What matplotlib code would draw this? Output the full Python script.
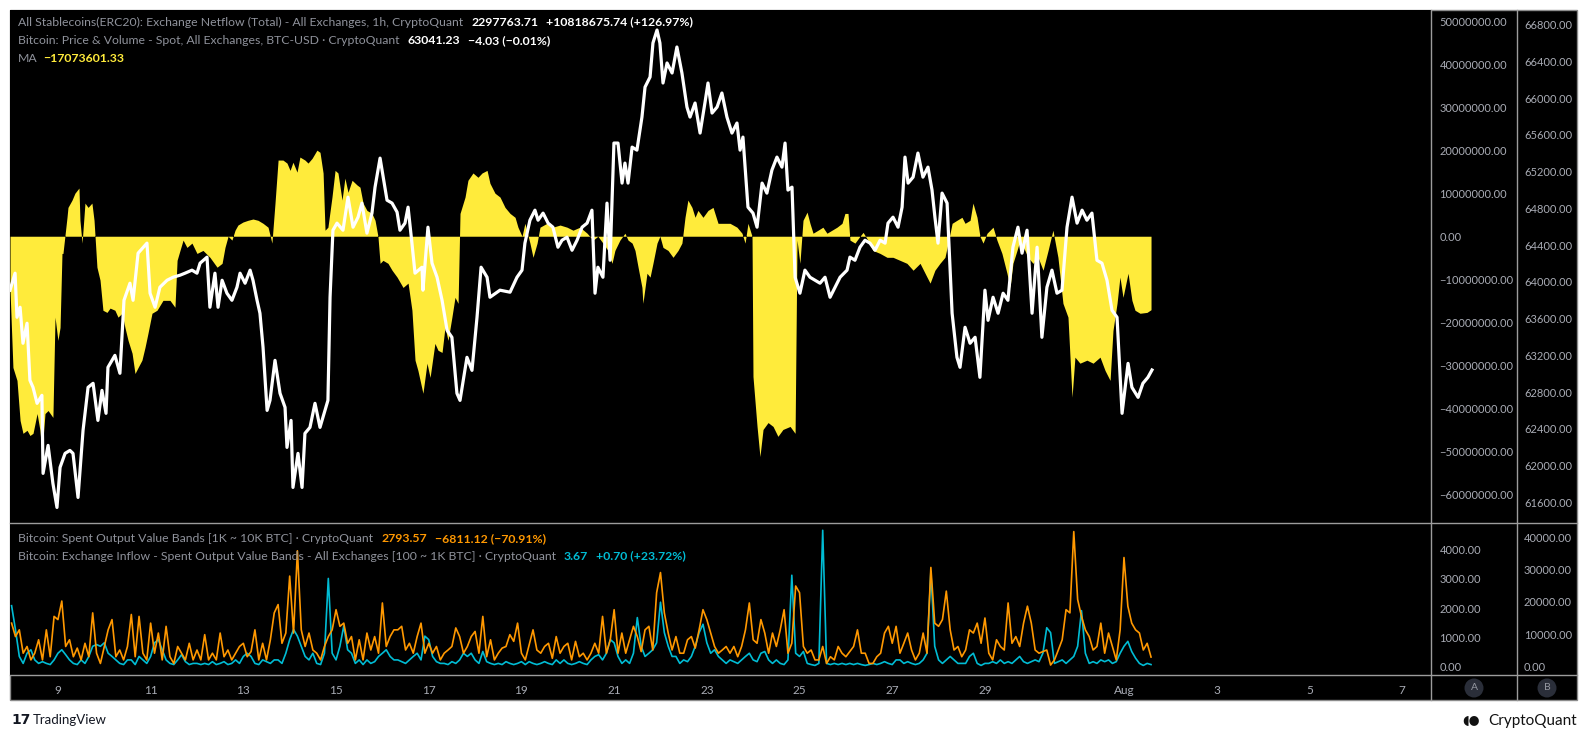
import numpy as np
import matplotlib
matplotlib.use("Agg")
import matplotlib.pyplot as plt
from matplotlib.lines import Line2D
from matplotlib.patches import Rectangle, Circle
from matplotlib.ticker import FuncFormatter

# ---------------- DATA (hours since 2024-07-07 00:00 UTC) ----------------
price_hours = [23.2, 25.8, 26.8, 28.4, 29.9, 32.0, 33.5, 35.1, 37.2, 39.7, 40.3, 42.9, 45.4, 47.5, 49.1, 51.7, 54.2, 55.8,
               58.4, 61.0, 63.6, 66.2, 68.7, 70.8, 72.9, 73.9, 77.5, 80.1, 82.2, 85.3, 86.9, 89.5, 94.1, 95.7, 98.3, 100.8,
               104.5, 107.6, 111.2, 113.8, 117.4, 120.0, 121.6, 125.2, 126.7, 129.3, 130.9, 133.0, 135.5, 138.1, 140.7,
               142.3, 144.9, 147.5, 149.0, 151.1, 152.6, 154.2, 156.3, 157.8, 160.4, 163.0, 165.6, 166.6, 168.7, 169.7,
               172.3, 174.4, 175.9, 178.5, 181.1, 183.7, 186.3, 187.8, 188.9, 190.4, 192.5, 195.6, 198.2, 200.8, 203.4,
               205.4, 208.0, 210.6, 212.2, 214.8, 218.4, 221.0, 223.6, 225.1, 227.7, 229.3, 231.3, 232.9, 236.5, 237.0,
               239.6, 241.7, 244.3, 246.9, 249.5, 252.0, 254.6, 256.2, 259.8, 262.4, 265.0, 267.1, 270.2, 271.7, 276.9,
               282.1, 285.7, 288.3, 289.8, 292.4, 295.0, 296.6, 299.2, 301.8, 304.3, 306.9, 309.0, 311.6, 314.2, 316.8,
               319.4, 322.0, 324.5, 326.1, 327.6, 330.2, 332.3, 333.9, 335.9, 338.0, 340.1, 341.6, 343.2, 345.3, 347.8,
               350.4, 352.0, 354.6, 356.1, 358.2, 359.7, 361.3, 363.4, 366.0, 368.5, 371.1, 373.7, 375.3, 377.9, 380.5,
               383.0, 384.6, 386.7, 389.3, 391.8, 394.4, 397.0, 399.6, 401.2, 402.7, 405.3, 407.9, 410.0, 412.6, 415.1,
               417.7, 420.3, 422.9, 424.5, 426.0, 428.1, 429.7, 432.2, 434.8, 437.4, 440.0, 442.6, 445.2, 447.8, 450.4,
               453.0, 456.6, 458.1, 460.7, 463.3, 465.9, 468.5, 471.1, 473.7, 476.3, 477.8, 480.4, 483.0, 485.1, 486.6,
               488.2, 490.8, 493.3, 495.9, 498.5, 500.6, 502.1, 503.7, 505.8, 508.4, 511.0, 513.5, 515.1, 517.7, 520.3,
               522.9, 525.4, 528.0, 529.6, 532.2, 534.8, 537.4, 539.9, 542.5, 545.1, 547.2, 549.8, 552.4, 555.0, 557.5,
               560.1, 562.7, 565.3, 567.9, 570.5, 573.1, 575.7, 578.3, 580.8, 583.4, 586.0, 588.6, 591.2, 593.8, 596.4,
               599.0, 602.1, 604.1, 607.3, 609.8, 612.4, 614.5]
btc_price = [63910, 64095, 63615, 63724, 63332, 63550, 62929, 62852, 62678, 62765, 61915, 62220, 61806, 61544, 61980, 62133,
             62165, 62133, 61653, 62383, 62852, 62896, 62492, 62819, 62569, 63070, 63200, 63005, 63800, 63986, 63800, 64313,
             64422, 63877, 63724, 63942, 64018, 64051, 64073, 64095, 64128, 64095, 64204, 64270, 63724, 64095, 63724, 64018,
             63877, 63800, 63942, 64095, 63986, 64128, 64018, 63800, 63659, 63288, 62601, 62710, 63146, 62787, 62634, 62198,
             62492, 61762, 62133, 61762, 62351, 62416, 62678, 62416, 62601, 62710, 63833, 64563, 64640, 64563, 64923, 64596,
             64705, 64858, 64531, 64749, 65032, 65348, 64890, 64858, 64760, 64563, 64640, 64814, 64422, 64095, 64160, 63910,
             64596, 64204, 64051, 63800, 63473, 63397, 62787, 62710, 63179, 63037, 63615, 64160, 64051, 63833, 63910, 63888,
             64051, 64128, 64422, 64672, 64781, 64672, 64749, 64640, 64596, 64378, 64454, 64487, 64345, 64454, 64596, 64640,
             64781, 63877, 64160, 64051, 64858, 64236, 65512, 65512, 65076, 65294, 65076, 65468, 65435, 65795, 66122, 66231,
             66602, 66743, 66602, 66166, 66384, 66275, 66558, 66275, 65904, 65795, 65948, 65621, 65948, 66166, 65839, 65904,
             66057, 65795, 65621, 65730, 65435, 65577, 64814, 64749, 64596, 65076, 64967, 65218, 65359, 65250, 65512, 65000,
             65032, 64051, 63877, 64128, 64051, 64018, 63986, 64051, 63833, 63942, 64051, 64128, 64270, 64236, 64378, 64454,
             64422, 64345, 64454, 64422, 64640, 64705, 64596, 64814, 65359, 65076, 65141, 65403, 65141, 65250, 65000, 64705,
             64422, 64967, 64858, 63659, 63179, 63070, 63506, 63332, 63397, 62961, 63910, 63582, 63833, 63659, 63877, 63800,
             64378, 64596, 64313, 64563, 63659, 64378, 63397, 63942, 64128, 63877, 63910, 64596, 64923, 64640, 64781, 64672,
             64749, 64236, 64204, 64018, 63691, 63615, 62569, 63113, 62852, 62743, 62896, 62961, 63041]

ma_hours = [23.2, 24.7, 26.8, 28.4, 29.9, 32.0, 33.5, 35.1, 37.2, 38.7, 39.7, 41.3, 42.9, 45.4, 46.5, 48.0, 49.1, 50.1,
            50.6, 52.7, 53.2, 55.3, 56.8, 58.9, 59.4, 60.5, 62.0, 63.6, 65.6, 66.7, 68.2, 69.8, 71.3, 73.4, 75.0, 77.5,
            79.1, 81.2, 82.7, 84.3, 86.4, 87.9, 89.5, 91.5, 93.1, 94.6, 96.7, 99.3, 102.4, 106.0, 108.6, 109.7, 111.2,
            112.8, 114.8, 117.4, 120.0, 123.1, 126.7, 130.4, 133.0, 134.5, 136.1, 138.1, 139.7, 141.2, 143.8, 146.4,
            149.0, 151.6, 154.2, 156.8, 158.8, 160.4, 162.0, 164.5, 166.6, 168.2, 169.7, 171.8, 173.3, 175.9, 177.5,
            179.6, 182.1, 183.7, 185.3, 186.3, 187.8, 189.9, 191.5, 193.0, 195.1, 196.6, 198.2, 200.3, 202.9, 204.4,
            206.0, 208.0, 210.6, 212.2, 213.7, 214.8, 216.3, 218.9, 221.0, 223.6, 226.7, 229.3, 231.3, 232.9, 234.4,
            237.0, 239.1, 240.7, 243.2, 244.8, 246.9, 248.4, 250.0, 252.0, 253.6, 255.2, 256.2, 258.8, 260.3, 262.9,
            265.5, 267.6, 270.2, 271.7, 274.3, 276.9, 279.5, 282.1, 284.7, 286.2, 288.3, 289.8, 292.4, 294.0, 296.1,
            297.6, 301.2, 304.3, 308.0, 311.6, 314.7, 318.3, 322.0, 325.1, 327.6, 330.2, 332.8, 334.9, 336.4, 339.0,
            341.6, 343.2, 345.3, 346.8, 348.4, 350.4, 350.9, 353.0, 354.6, 356.1, 358.2, 359.7, 361.3, 363.9, 366.5,
            369.1, 371.1, 372.7, 374.2, 376.3, 377.9, 379.4, 382.0, 384.6, 387.2, 389.8, 392.4, 396.0, 399.6, 402.2,
            403.8, 405.3, 407.4, 407.9, 410.0, 411.5, 413.1, 415.7, 418.3, 420.8, 423.4, 427.1, 429.7, 430.7, 432.2,
            433.8, 435.9, 437.4, 439.0, 441.6, 444.1, 446.2, 448.8, 451.4, 454.0, 455.5, 457.1, 458.1, 460.7, 463.3,
            464.9, 467.4, 470.0, 473.7, 477.3, 480.4, 484.0, 487.6, 490.8, 494.4, 498.0, 499.6, 502.1, 504.7, 507.3,
            508.9, 511.0, 513.5, 516.1, 517.7, 520.3, 521.8, 523.9, 525.4, 527.0, 529.1, 532.2, 534.2, 536.8, 539.4,
            541.0, 542.5, 544.6, 546.2, 548.7, 550.3, 552.9, 555.5, 558.1, 560.7, 563.2, 565.8, 568.4, 571.0, 573.1,
            574.6, 577.2, 580.8, 584.0, 587.6, 590.2, 592.8, 594.3, 596.4, 597.9, 599.5, 602.1, 604.1, 605.7, 608.3,
            611.9, 614.0]
# stablecoin exchange netflow MA, millions of USD
ma_netflow_m = [-12.6, -30.5, -33.5, -42.8, -45.8, -45.1, -46.3, -45.8, -41.2, -45.1, -50.5, -41.2, -40.5, -42.1, -18.8,
                -24.2, -21.2, -4.0, -4.0, 4.4, 6.7, 8.4, 10.0, 11.2, 3.7, -1.6, 7.7, 6.7, 7.7, 3.7, -7.2, -10.2, -17.2,
                -17.7, -16.7, -17.2, -18.8, -17.9, -21.2, -24.2, -27.2, -31.9, -30.5, -28.8, -25.8, -22.6, -17.9, -17.2,
                -14.9, -14.9, -16.5, -5.6, -3.3, -0.9, -2.6, -1.6, -4.0, -3.3, -4.9, -7.2, -6.3, -2.6, 0.0, -0.9, 1.4,
                2.6, 3.3, 3.7, 4.0, 3.7, 3.0, 2.1, -1.6, 7.7, 17.7, 17.7, 17.0, 15.3, 17.2, 14.9, 18.4, 17.7, 17.0, 18.1,
                20.0, 19.5, 14.7, 1.4, 2.1, 9.1, 15.3, 14.7, 8.4, 13.5, 10.2, 13.0, 11.9, 11.4, 7.7, 6.0, 5.3, 3.7, 0.0,
                -6.3, -5.6, -6.3, -7.9, -9.5, -11.9, -10.9, -17.2, -28.8, -31.2, -36.5, -29.5, -32.8, -24.9, -26.5,
                -27.0, -21.2, -24.2, -18.8, -14.2, -15.6, 5.3, 9.1, 13.0, 14.7, 13.7, 14.7, 15.3, 12.3, 10.0, 9.1, 6.7,
                5.3, 4.4, 2.1, 0.0, 3.0, -1.6, -4.9, -1.6, 2.1, 3.0, 2.1, 2.6, 2.1, 1.4, 2.1, 0.7, -0.9, 0.0, -1.6, -3.3,
                -6.3, -3.3, -0.9, 0.7, -0.9, -1.6, -3.3, -7.2, -11.9, -15.6, -8.6, -9.5, -6.3, -1.6, 0.0, -2.6, -3.3,
                -4.9, -3.3, -1.6, 4.4, 8.4, 6.7, 4.4, 6.0, 4.4, 6.0, 6.7, 3.0, 3.0, 3.0, 2.1, 0.7, -1.6, 3.0, 0.0, -32.6,
                -44.2, -51.2, -44.9, -43.3, -44.2, -46.5, -44.9, -44.2, -45.8, -0.9, -6.3, 3.7, 5.6, 3.0, 0.7, 1.4, 2.1,
                0.7, 1.4, 2.1, 3.0, 5.3, 5.3, -0.9, -1.6, 0.0, 0.9, -0.9, -3.3, -4.0, -4.9, -4.9, -5.6, -6.3, -7.9, -6.3,
                -9.5, -10.9, -7.9, -6.3, -4.9, -1.6, 3.0, 3.7, 4.4, 3.0, 3.7, 7.7, 4.4, 0.0, -1.6, 0.7, 2.1, -0.9, -4.0,
                -8.6, -11.9, -6.3, -3.3, -0.9, -3.3, -4.9, -6.3, -4.9, -7.9, -3.3, 1.4, -4.9, -15.6, -18.8, -37.4,
                -28.1, -29.5, -28.8, -29.5, -28.1, -31.2, -33.5, -21.9, -15.6, -9.5, -14.2, -8.6, -14.9, -17.2, -17.9,
                -17.7, -17.07]

# spent output value bands, 2-hourly samples starting at hour 24 (thousands)
bands_start_hour = 24
bands_step_hours = 2
band_1k_10k = [13.4, 9.2, 11.3, 4.0, 6.1, 1.9, 4.0, 8.2, 1.9, 11.3, 2.9, 15.5, 14.5, 20.3, 6.1, 8.2, 2.9, 5.6, 1.9, 7.1,
               2.9, 16.6, 4.0, 0.8, 6.1, 11.3, 14.5, 2.9, 5.0, 1.9, 6.1, 16.1, 2.9, 15.5, 4.0, 1.9, 13.4, 4.0, 10.3, 1.9,
               12.4, 2.9, 0.8, 6.1, 4.0, 1.9, 7.1, 1.9, 5.0, 1.9, 9.8, 1.9, 4.0, 1.9, 10.3, 2.9, 5.0, 1.9, 4.0, 6.1,
               7.1, 2.9, 4.5, 11.3, 1.9, 7.1, 1.9, 8.2, 16.6, 19.2, 7.1, 10.3, 28.1, 10.3, 36.0, 11.3, 6.1, 10.3, 5.0,
               4.0, 1.9, 6.1, 9.2, 11.3, 17.6, 12.4, 13.4, 7.1, 9.2, 1.9, 8.2, 1.9, 10.3, 5.0, 9.2, 4.0, 19.7, 6.1, 9.2,
               11.3,
               11.3, 12.4, 5.0, 7.1, 4.0, 9.2, 13.4, 4.0, 7.1, 4.0, 6.1, 1.9, 4.0, 5.0, 6.1, 11.9, 9.2, 4.0, 6.1, 9.2,
               10.8, 4.0, 15.5, 2.9, 8.2, 1.9, 4.0, 5.6, 6.1, 9.8, 7.7, 13.4, 4.0, 1.9, 6.6, 11.3, 5.0, 4.0, 6.1, 7.1,
               2.4, 9.2, 4.0, 6.1, 7.1, 1.9, 7.7, 2.9, 4.0, 1.9, 4.0, 7.1, 4.0, 15.5, 4.0, 8.2, 17.6, 4.0, 10.3, 4.0,
               8.2, 12.4, 9.2, 4.5, 11.3, 12.4, 5.0, 22.9, 29.2, 16.6, 10.3, 5.0, 9.2, 4.0, 4.0, 8.2, 9.2, 5.6, 11.3,
               17.6, 14.5, 10.3, 6.1, 4.0, 5.0, 6.1, 4.0, 6.1, 2.9, 6.1, 11.3, 19.7, 8.2, 7.1, 14.5, 10.3, 4.0, 10.3,
               6.1, 11.3, 17.6,
               4.0, 7.1, 25.0, 22.9, 6.1, 4.0, 5.0, 1.9, 1.9, 6.1, 0.8, 2.9, 1.9, 6.1, 4.0, 2.9, 4.5, 6.1, 11.3, 4.0,
               4.0, 0.8, 0.8, 2.9, 4.0, 10.3, 12.4, 7.1, 12.4, 4.0, 7.1, 10.3, 5.0, 1.9, 4.0, 10.3, 4.0, 30.8, 13.4,
               12.4, 14.5, 23.4, 11.3, 5.0, 6.1, 2.9, 5.0, 11.3, 10.3, 13.4, 7.1, 15.0, 4.0, 1.9, 8.2, 6.1, 5.0, 19.7,
               7.1, 9.2, 6.1, 13.4, 18.7, 13.4, 5.0, 4.0, 4.5, 5.0, 0.3, 1.9, 5.0, 8.2, 17.6, 16.6, 42.0, 20.8, 15.5,
               11.3, 9.2, 5.0, 6.1, 13.4, 4.0, 10.3, 6.1, 1.9, 11.3, 33.9, 18.7, 13.4, 11.3, 10.3, 5.0, 7.1, 2.8]
band_100_1k = [2.08, 1.26, 0.33, 0.09, 0.44, 0.56, 0.21, 0.09, 0.15, 0.09, 0.05, 0.21, 0.44, 0.56, 0.39, 0.21, 0.09, 0.05,
               0.21, 0.09, 0.33, 0.68, 0.74, 0.68, 0.80, 0.44, 0.33, 0.21, 0.09, 0.05, 0.21, 0.21, 0.05, 0.33, 0.21, 0.09,
               0.33, 0.80, 0.91, 0.56, 0.21, 0.09, 0.05, 0.21, 0.39, 0.15, 0.05, 0.09, 0.09, 0.05, 0.09, 0.05, 0.15, 0.05,
               0.09, 0.15, 0.05, 0.09, 0.21, 0.09, 0.33, 0.44, 0.33, 0.09, 0.05, 0.21, 0.15, 0.09, 0.21, 0.21, 0.09, 0.44,
               0.91, 1.26, 1.03, 0.68, 0.33, 0.21, 0.44, 0.09, 0.05, 0.44, 3.02, 0.44, 0.21, 0.68, 1.38, 0.56, 0.44, 0.09,
               0.21, 0.05, 0.21, 0.09, 0.15, 0.33, 0.44, 0.56, 0.33, 0.21,
               0.21, 0.15, 0.09, 0.21, 0.33, 0.44, 0.21, 1.03, 0.91, 0.33, 0.15, 0.09, 0.09, 0.05, 0.15, 0.09, 0.21, 0.44,
               0.33, 0.44, 0.21, 0.09, 0.50, 0.15, 0.09, 0.05, 0.09, 0.05, 0.15, 0.09, 0.05, 0.09, 0.15, 0.05, 0.15, 0.09,
               0.05, 0.09, 0.15, 0.09, 0.05, 0.21, 0.09, 0.21, 0.09, 0.05, 0.09, 0.15, 0.09, 0.05, 0.21, 0.33, 0.39, 0.21,
               0.44, 0.91, 0.80, 0.33, 0.09, 0.21, 0.09, 0.44, 1.67, 0.68, 0.33, 0.44, 0.56, 0.80, 2.20, 1.15, 0.68, 0.33,
               0.33, 0.09, 0.21, 0.15, 0.33, 0.68, 1.15, 1.44, 0.80, 0.44, 0.56, 0.33, 0.21, 0.09, 0.21, 0.15, 0.09, 0.21,
               0.33, 0.44, 0.21, 0.15, 0.44, 0.50, 0.21, 0.09, 0.21, 0.09, 0.05,
               0.21, 3.13, 0.44, 0.33, 0.50, 0.09, 0.05, 0.02, 0.09, 4.68, 0.09, 0.05, 0.09, 0.05, 0.09, 0.05, 0.09, 0.05,
               0.09, 0.05, 0.02, 0.05, 0.09, 0.05, 0.09, 0.15, 0.09, 0.05, 0.21, 0.21, 0.09, 0.15, 0.09, 0.05, 0.09, 0.21,
               0.44, 3.25, 0.68, 0.21, 0.09, 0.21, 0.33, 0.21, 0.09, 0.09, 0.09, 0.33, 0.44, 0.09, 0.02, 0.09, 0.09, 0.15,
               0.09, 0.21, 0.09, 0.15, 0.09, 0.21, 0.33, 0.15, 0.09, 0.15, 0.21, 0.15, 0.44, 1.32, 1.15, 0.09, 0.15, 0.21,
               0.09, 0.21, 0.33, 0.68, 1.91, 0.44, 0.09, 0.15, 0.09, 0.21, 0.15, 0.21, 0.09, 0.15, 0.44, 0.68, 0.85, 0.50,
               0.27, 0.09, 0.02, 0.09, 0.05]

# x-axis ticks: day of July (Aug 1 = 32)
tick_days = [9, 11, 13, 15, 17, 19, 21, 23, 25, 27, 29, 32, 34, 36, 38]
tick_labels = ["9", "11", "13", "15", "17", "19", "21", "23", "25", "27", "29", "Aug", "3", "5", "7"]

netflow_ticks_m = [-60, -50, -40, -30, -20, -10, 0, 10, 20, 30, 40, 50]
price_ticks = [61600, 62000, 62400, 62800, 63200, 63600, 64000, 64400, 64800, 65200, 65600, 66000, 66400, 66800]
band_a_ticks_k = [0, 1, 2, 3, 4]
band_b_ticks_k = [0, 10, 20, 30, 40]

# ---------------- FIGURE ----------------
W, H = 1588, 738
fig = plt.figure(figsize=(W / 100, H / 100), dpi=100, facecolor="white")
FONT = ["Lato", "DejaVu Sans"]


def fx(px):
    return px / W


def fy(py):
    return 1 - py / H


L, RP, RA, RB = 10, 1431, 1517, 1577
T, SEP, BOT, XB = 10, 522.5, 675, 700

fig.add_artist(Rectangle((fx(L), fy(XB)), fx(RB) - fx(L), fy(T) - fy(XB), transform=fig.transFigure,
                         facecolor="black", edgecolor="#8c8c8c", lw=1.0, zorder=0))

ax_t = fig.add_axes([fx(L), fy(SEP), fx(RP) - fx(L), fy(T) - fy(SEP)], facecolor="black")
ax_b = fig.add_axes([fx(L), fy(BOT), fx(RP) - fx(L), fy(SEP) - fy(BOT)], facecolor="black")

xmin, xmax = 23.18, 758.97
YEL, ORG, CYA, WHT = "#FFEB3B", "#FF9800", "#00BCD4", "#FFFFFF"
TICKC = "#a9acb5"
GRAYT = "#8f929b"
RIGHT_FRAC = (RA - L) / (RP - L)

# top pane: netflow MA area (inner scale) + BTC price (outer scale)
ax_t.fill_between(ma_hours, ma_netflow_m, 0, color=YEL, lw=0, zorder=1)
ax_t.set_xlim(xmin, xmax)
ax_t.set_ylim(-66.52, 52.57)
ax_t.set_xticks([])

ax_p = ax_t.twinx()
ax_p.plot(price_hours, btc_price, color=WHT, lw=2.3, solid_joinstyle="round", zorder=3)
ax_p.set_xlim(xmin, xmax)
ax_p.set_ylim(61380.2, 66961.0)
ax_p.spines["right"].set_position(("axes", RIGHT_FRAC))
ax_p.set_yticks(price_ticks)
ax_p.yaxis.set_major_formatter(FuncFormatter(lambda v, p: f"{v:.2f}"))
ax_p.tick_params(axis="y", length=0, pad=5, colors=TICKC, labelsize=8)

ax_t.yaxis.tick_right()
ax_t.yaxis.set_label_position("right")
ax_t.set_yticks(netflow_ticks_m)
ax_t.yaxis.set_major_formatter(FuncFormatter(lambda v, p: f"{v * 1e6:.2f}".replace("-", "\u2212")))
ax_t.tick_params(axis="y", which="both", left=False, right=True, labelleft=False, labelright=True,
                 length=0, pad=6, colors=TICKC, labelsize=8)

# bottom pane
band_hours = bands_start_hour + bands_step_hours * np.arange(len(band_1k_10k))
ax_b.plot(band_hours, band_100_1k, color=CYA, lw=1.2, zorder=2)
ax_b.set_xlim(xmin, xmax)
ax_b.set_ylim(-0.31, 4.948)
ax_b.set_xticks([(d - 7) * 24 for d in tick_days])
ax_b.set_xticklabels(tick_labels)
ax_b.tick_params(axis="x", length=0, pad=7, colors=TICKC, labelsize=8.5)

ax_o = ax_b.twinx()
ax_o.plot(band_hours, band_1k_10k, color=ORG, lw=1.2, zorder=3)
ax_o.set_xlim(xmin, xmax)
ax_o.set_ylim(-2.81, 44.84)
ax_o.spines["right"].set_position(("axes", RIGHT_FRAC))
ax_o.set_yticks(band_b_ticks_k)
ax_o.yaxis.set_major_formatter(FuncFormatter(lambda v, p: f"{v * 1000:.2f}"))
ax_o.tick_params(axis="y", length=0, pad=5, colors=TICKC, labelsize=8)

ax_b.yaxis.tick_right()
ax_b.yaxis.set_label_position("right")
ax_b.set_yticks(band_a_ticks_k)
ax_b.yaxis.set_major_formatter(FuncFormatter(lambda v, p: f"{v * 1000:.2f}"))
ax_b.tick_params(axis="y", which="both", left=False, right=True, labelleft=False, labelright=True,
                 length=0, pad=6, colors=TICKC, labelsize=8)

for a in (ax_t, ax_p, ax_b, ax_o):
    for s in a.spines.values():
        s.set_visible(False)
    for lab in a.get_yticklabels() + a.get_xticklabels():
        lab.set_family(FONT)

# separators
SEPC = "#9c9c9c"
fig.add_artist(Line2D([fx(L), fx(RB)], [fy(SEP), fy(SEP)], transform=fig.transFigure, color=SEPC, lw=1.0))
fig.add_artist(Line2D([fx(L), fx(RB)], [fy(BOT), fy(BOT)], transform=fig.transFigure, color=SEPC, lw=1.0))
for xv in (RP, RA):
    fig.add_artist(Line2D([fx(xv), fx(xv)], [fy(T), fy(XB)], transform=fig.transFigure, color=SEPC, lw=1.0))

# A / B badges
for cx, lab in ((1474, "A"), (1547, "B")):
    fig.add_artist(Circle((cx / 100, (H - 688) / 100), 0.095, transform=fig.dpi_scale_trans,
                          facecolor="#2a2e39", edgecolor="none"))
    fig.text(fx(cx), fy(688), lab, color="#9598a1", fontsize=7.5, ha="center", va="center", family=FONT)

# legends
renderer = fig.canvas.get_renderer()


def seg_text(x_px, y_px, parts, size=8.8):
    x = x_px
    for s, color, weight, gap in parts:
        t = fig.text(fx(x), fy(y_px), s, color=color, fontsize=size, fontweight=weight,
                     ha="left", va="center", family=FONT)
        x += t.get_window_extent(renderer=renderer).width + gap


seg_text(18, 22, [("All Stablecoins(ERC20): Exchange Netflow (Total) - All Exchanges, 1h, CryptoQuant", GRAYT, "normal", 8),
                  ("2297763.71", WHT, "bold", 8),
                  ("+10818675.74 (+126.97%)", WHT, "bold", 0)])
seg_text(18, 41, [("Bitcoin: Price & Volume - Spot, All Exchanges, BTC-USD \u00b7 CryptoQuant", GRAYT, "normal", 8),
                  ("63041.23", WHT, "bold", 8),
                  ("\u22124.03 (\u22120.01%)", WHT, "bold", 0)])
seg_text(18, 59, [("MA", GRAYT, "normal", 6),
                  ("\u221217073601.33", YEL, "bold", 0)])
seg_text(18, 539, [("Bitcoin: Spent Output Value Bands [1K ~ 10K BTC] \u00b7 CryptoQuant", GRAYT, "normal", 8),
                   ("2793.57", ORG, "bold", 8),
                   ("\u22126811.12 (\u221270.91%)", ORG, "bold", 0)])
seg_text(18, 556, [("Bitcoin: Exchange Inflow - Spent Output Value Bands - All Exchanges [100 ~ 1K BTC] \u00b7 CryptoQuant",
                    GRAYT, "normal", 8),
                   ("3.67", CYA, "bold", 8),
                   ("+0.70 (+23.72%)", CYA, "bold", 0)])

# footer
fig.text(fx(11), fy(720), "17", color="#131722", fontsize=10, fontweight="heavy", ha="left", va="center",
         family=["DejaVu Sans"])
fig.text(fx(33), fy(720), "TradingView", color="#131722", fontsize=9.5, ha="left", va="center", family=FONT)
fig.text(fx(1577), fy(721), "CryptoQuant", color="#111111", fontsize=11, ha="right", va="center", family=FONT)
fig.text(fx(1480), fy(721), "\u25d6\u25cf", color="#111111", fontsize=9, ha="right", va="center",
         family=["DejaVu Sans"])

fig.savefig("out.png", dpi=100, facecolor="white")
